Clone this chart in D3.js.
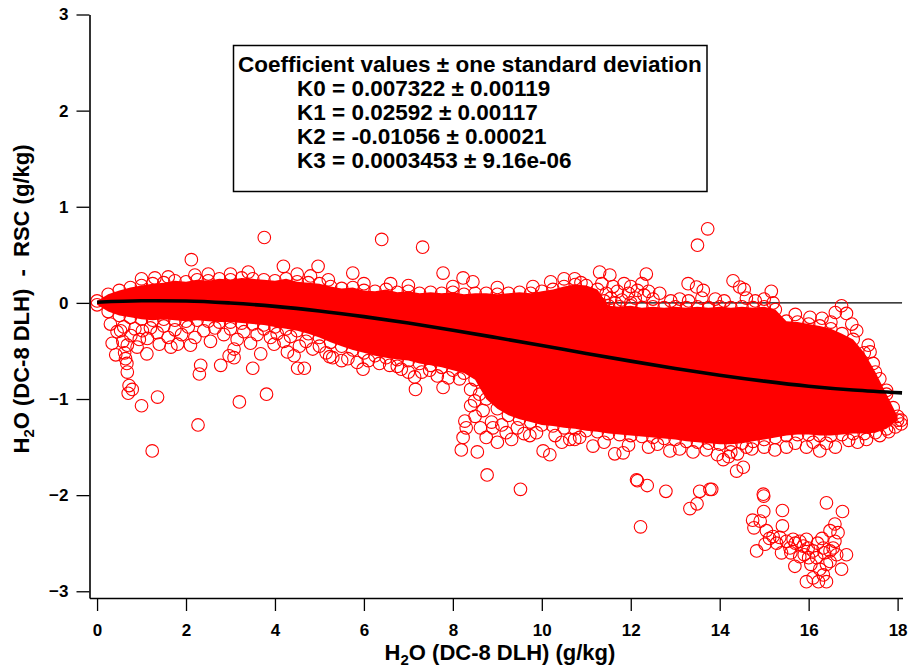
<!DOCTYPE html>
<html>
<head>
<meta charset="utf-8">
<script src="https://cdn.jsdelivr.net/npm/d3@7"></script>
<style>
  html, body { margin: 0; padding: 0; background: #fff; }
  svg { display: block; font-family: "Liberation Sans", Arial, sans-serif; font-weight: bold; }
</style>
</head>
<body>
<svg id="chart" width="912" height="668"></svg>
<script>
// ---------------- DATA ----------------
const xTickValues = [0, 2, 4, 6, 8, 10, 12, 14, 16, 18];
const yTickValues = [-3, -2, -1, 0, 1, 2, 3];

const xLabel = "H₂O (DC-8 DLH) (g/kg)";
const yLabel = "H₂O (DC-8 DLH)  -  RSC (g/kg)";

const legendTitle = "Coefficient values ± one standard deviation";
const coefNames  = ["K0", "K1", "K2", "K3"];
const coefValues = ["0.007322", "0.02592", "-0.01056", "0.0003453"];
const coefSigmas = ["0.00119", "0.00117", "0.00021", "9.16e-06"];

// fitted cubic curve
const fitX = [0, 1, 2, 3, 4, 5, 6, 7, 8, 9, 10, 11, 12, 13, 14, 15, 16, 17, 18.1];
const fitY = [0.007, 0.023, 0.020, -0.001, -0.036, -0.084, -0.143, -0.210, -0.284, -0.363,
              -0.444, -0.526, -0.606, -0.682, -0.752, -0.814, -0.867, -0.907, -0.936];

// zero reference line extent
const zeroLineX = [0, 18.1];

// upper and lower edge of the saturated (overlapping) point cloud
const upperEdge = [[0,0.02],[0.25,0.09],[0.5,0.13],[0.75,0.16],[1,0.18],[1.25,0.2],[1.5,0.21],[1.75,0.23],[2,0.22],[2.25,0.24],[2.5,0.23],[2.75,0.25],[3,0.24],[3.25,0.26],[3.5,0.25],[3.75,0.24],[4,0.23],[4.25,0.25],[4.5,0.22],[4.75,0.21],[5,0.2],[5.25,0.17],[5.5,0.15],[5.75,0.16],[6,0.13],[6.25,0.12],[6.5,0.14],[6.75,0.11],[7,0.12],[7.25,0.1],[7.5,0.11],[7.75,0.1],[8,0.11],[8.25,0.09],[8.5,0.1],[8.75,0.1],[9,0.09],[9.25,0.1],[9.5,0.11],[9.75,0.1],[10,0.12],[10.25,0.14],[10.5,0.17],[10.75,0.19],[11,0.18],[11.25,0.14],[11.5,-0.03],[11.75,-0.04],[12,-0.03],[12.25,-0.05],[12.5,-0.04],[12.75,-0.05],[13,-0.04],[13.25,-0.05],[13.5,-0.04],[13.75,-0.05],[14,-0.04],[14.25,-0.05],[14.5,-0.04],[14.75,-0.05],[15,-0.04],[15.25,-0.07],[15.5,-0.19],[15.75,-0.2],[16,-0.22],[16.25,-0.24],[16.5,-0.27],[16.75,-0.32],[17,-0.38],[17.25,-0.52],[17.5,-0.72],[17.75,-0.95],[18,-1.18]];
const lowerEdge = [[0,-0.02],[0.25,-0.09],[0.5,-0.13],[0.75,-0.15],[1,-0.17],[1.25,-0.18],[1.5,-0.17],[1.75,-0.18],[2,-0.19],[2.25,-0.18],[2.5,-0.19],[2.75,-0.2],[3,-0.2],[3.25,-0.21],[3.5,-0.22],[3.75,-0.23],[4,-0.25],[4.25,-0.27],[4.5,-0.29],[4.75,-0.32],[5,-0.36],[5.25,-0.41],[5.5,-0.45],[5.75,-0.49],[6,-0.52],[6.25,-0.55],[6.5,-0.57],[6.75,-0.59],[7,-0.6],[7.25,-0.63],[7.5,-0.65],[7.75,-0.67],[8,-0.7],[8.25,-0.73],[8.5,-0.8],[8.75,-1.0],[9,-1.1],[9.25,-1.17],[9.5,-1.21],[9.75,-1.24],[10,-1.27],[10.25,-1.28],[10.5,-1.3],[10.75,-1.31],[11,-1.33],[11.25,-1.34],[11.5,-1.36],[11.75,-1.37],[12,-1.38],[12.25,-1.39],[12.5,-1.4],[12.75,-1.41],[13,-1.42],[13.25,-1.44],[13.5,-1.45],[13.75,-1.46],[14,-1.47],[14.25,-1.47],[14.5,-1.46],[14.75,-1.44],[15,-1.42],[15.25,-1.4],[15.5,-1.38],[15.75,-1.37],[16,-1.37],[16.25,-1.38],[16.5,-1.38],[16.75,-1.37],[17,-1.36],[17.25,-1.36],[17.5,-1.35],[17.75,-1.31],[18,-1.22]];

// individually visible points: below the cloud (x < 5.3)
const pointsLowLeft = [[0.34,-0.42],[0.42,-0.54],[0.68,-0.44],[0.64,-0.58],[0.67,-0.63],[0.68,-0.72],[0.72,-0.86],[0.79,-0.9],[0.7,-0.94],[1.0,-1.07],[1.36,-0.98],[1.12,-0.53],[1.02,-0.29],[1.24,-1.54],[2.3,-0.74],[2.33,-0.65],[2.27,-1.27],[2.78,-0.65],[2.97,-0.55],[3.08,-0.57],[3.2,-1.03],[3.5,-0.68],[3.81,-0.95],[3.68,-0.53],[1.66,-0.46],[2.1,-0.44],[4.43,-0.55],[4.51,-0.68],[4.66,-0.68],[5.23,-0.56],[4.28,-0.51],[3.98,-0.43],[3.08,-0.48],[1.81,-0.43],[1.4,-0.43],[1.13,-0.37],[0.76,-0.34],[0.53,-0.29],[0.3,-0.22],[0.45,-0.3],[0.6,-0.25],[0.85,-0.27],[0.95,-0.38],[1.2,-0.26],[1.35,-0.31],[1.5,-0.24],[1.6,-0.36],[1.75,-0.28],[1.9,-0.33],[2.05,-0.25],[2.2,-0.36],[2.4,-0.29],[2.55,-0.4],[2.65,-0.26],[2.85,-0.33],[3.0,-0.27],[3.15,-0.38],[3.3,-0.3],[3.45,-0.42],[3.6,-0.33],[3.75,-0.27],[3.9,-0.36],[4.05,-0.32],[4.2,-0.4],[4.35,-0.35],[4.55,-0.45],[4.7,-0.4],[4.85,-0.48],[5.0,-0.45],[5.15,-0.52],[0.9,-0.46],[0.62,-0.52],[0.58,-0.4]];
// below the cloud, 5.3 to 10.9
const pointsLowMid = [[5.3,-0.57],[5.64,-0.58],[5.98,-0.69],[6.35,-0.63],[6.58,-0.65],[6.84,-0.69],[7.14,-0.77],[7.16,-0.9],[7.78,-0.88],[7.48,-0.7],[8.15,-0.79],[8.49,-1.02],[8.27,-1.23],[8.3,-1.3],[8.23,-1.4],[8.19,-1.53],[8.55,-1.55],[8.75,-1.4],[8.77,-1.79],[9.52,-1.94],[9.32,-1.42],[8.87,-1.24],[9.88,-1.35],[10.03,-1.54],[10.18,-1.58],[9.73,-1.38],[10.63,-1.42],[8.68,-1.12],[5.5,-0.6],[5.85,-0.62],[6.1,-0.6],[6.75,-0.66],[7.0,-0.72],[7.3,-0.72],[7.65,-0.76],[7.9,-0.78],[8.4,-0.9],[8.6,-0.95],[8.5,-1.18],[8.62,-1.3],[8.9,-1.3],[9.1,-1.27],[9.2,-1.35],[9.45,-1.3],[9.6,-1.36],[10.3,-1.38],[10.45,-1.45],[10.85,-1.4],[9.0,-1.45],[8.4,-1.07]];
// below the cloud, 10.7 to 18.1
const pointsLowRight = [[11.15,-1.49],[11.64,-1.57],[11.83,-1.56],[12.13,-1.84],[12.37,-1.9],[12.79,-1.96],[13.55,-1.96],[13.82,-1.94],[14.38,-1.75],[14.53,-1.71],[14.72,-1.52],[14.98,-1.99],[15.5,-1.5],[15.24,-1.53],[14.08,-1.63],[12.88,-1.54],[10.74,-1.42],[16.1,-1.45],[12.15,-1.85],[12.22,-2.33],[13.33,-2.14],[13.49,-2.09],[13.78,-1.94],[16.25,-1.54],[11.4,-1.45],[11.95,-1.48],[12.4,-1.5],[12.6,-1.47],[13.1,-1.52],[13.4,-1.55],[13.7,-1.53],[13.95,-1.58],[14.2,-1.6],[14.25,-1.55],[14.4,-1.57],[14.6,-1.5],[15.0,-1.5],[15.7,-1.46],[15.95,-1.5],[16.4,-1.46],[16.6,-1.5],[16.9,-1.43],[17.1,-1.45],[17.3,-1.42],[17.6,-1.38],[17.8,-1.34],[17.95,-1.29],[18.08,-1.26]];
// separate low cluster near x = 15-17
const pointsCluster = [[14.99,-2.01],[15.41,-2.16],[14.99,-2.17],[14.74,-2.26],[14.91,-2.27],[14.77,-2.34],[15.05,-2.37],[15.2,-2.43],[15.41,-2.32],[15.35,-2.44],[14.83,-2.58],[15.02,-2.51],[15.39,-2.6],[15.65,-2.46],[15.8,-2.48],[15.95,-2.46],[15.99,-2.55],[15.69,-2.74],[15.8,-2.64],[16.1,-2.58],[16.18,-2.65],[16.33,-2.55],[16.4,-2.08],[16.76,-2.17],[16.59,-2.3],[16.48,-2.37],[16.66,-2.39],[16.59,-2.48],[16.48,-2.58],[16.63,-2.62],[16.85,-2.62],[16.74,-2.77],[16.4,-2.72],[15.95,-2.9],[16.22,-2.9],[16.4,-2.9],[16.33,-2.83],[16.1,-2.86],[16.25,-2.77],[16.05,-2.72],[16.48,-2.69],[15.58,-2.55],[15.5,-2.48],[15.12,-2.45],[15.28,-2.5],[15.7,-2.5],[15.88,-2.53],[16.2,-2.5],[16.35,-2.6],[16.55,-2.55],[16.3,-2.45],[15.6,-2.6],[15.9,-2.62],[16.0,-2.65]];
// above the cloud
const pointsHigh = [[2.12,0.45],[3.76,0.68],[4.19,0.38],[4.97,0.38],[6.4,0.66],[7.32,0.58],[7.78,0.31],[8.23,0.26],[8.45,0.22],[5.75,0.31],[10.74,0.25],[12.35,0.3],[11.3,0.32],[11.53,0.29],[13.29,0.2],[13.48,0.165],[13.63,0.13],[13.73,0.77],[13.5,0.6],[14.3,0.23],[14.45,0.165],[14.55,0.14],[15.16,0.12],[10.88,0.21],[1.0,0.25],[1.6,0.27],[2.5,0.3],[3.0,0.3],[3.4,0.32],[4.5,0.3],[5.2,0.24],[6.0,0.2],[6.6,0.2],[7.0,0.18],[8.0,0.17],[9.0,0.16],[9.8,0.17],[10.2,0.22],[10.5,0.25],[4.8,0.28],[2.2,0.29],[1.3,0.26],[11.35,0.2],[11.45,0.1],[11.55,0.05],[11.6,0.17],[11.7,0.12],[11.8,0.03],[11.85,0.2],[11.95,0.1],[12.0,0.17],[12.1,0.05],[12.15,0.13],[12.25,0.2],[12.3,0.08],[11.4,0.02],[12.4,0.12],[12.5,0.04],[12.65,0.1],[12.0,0.0],[11.65,0.0],[12.9,0.02],[13.1,0.04],[13.3,0.02],[13.9,0.04],[14.1,0.02],[14.6,0.05],[14.8,0.02],[15.0,0.04],[15.2,0.0],[13.6,0.05],[16.74,-0.03],[16.85,-0.11],[16.97,-0.22],[17.08,-0.29],[17.34,-0.44],[17.38,-0.51],[17.45,-0.63],[17.6,-0.79],[17.75,-0.91],[17.9,-1.09],[18.08,-1.22],[16.03,-0.15],[15.7,-0.12],[16.3,-0.16],[16.5,-0.2],[16.6,-0.1]];

// ---------------- DRAWING ----------------
const svg = d3.select("#chart");
const red = "#ff0000";
const R = 6.3;

const x = d3.scaleLinear().domain([-0.17, 18.11]).range([89.5, 902.5]);
const y = d3.scaleLinear().domain([-3.07, 3.0]).range([598, 14.5]);

// zero line (beneath the points)
svg.append("line")
  .attr("x1", x(zeroLineX[0])).attr("x2", x(zeroLineX[1]))
  .attr("y1", y(0)).attr("y2", y(0))
  .attr("stroke", "#000").attr("stroke-width", 1.2);

// saturated core of the cloud
const coreData = upperEdge.map((d, i) => ({ x: d[0], y0: lowerEdge[i][1], y1: d[1] }));
svg.append("path")
  .datum(coreData)
  .attr("d", d3.area().x(d => x(d.x)).y0(d => y(d.y0)).y1(d => y(d.y1)))
  .attr("fill", red);

// individual points (open circles)
const allPoints = [].concat(upperEdge, lowerEdge, pointsLowLeft, pointsLowMid, pointsLowRight, pointsCluster, pointsHigh);
svg.append("g")
  .selectAll("circle")
  .data(allPoints)
  .join("circle")
  .attr("cx", d => x(d[0]))
  .attr("cy", d => y(d[1]))
  .attr("r", R)
  .attr("fill", "none")
  .attr("stroke", red)
  .attr("stroke-width", 1.1);

// fit curve
svg.append("path")
  .datum(fitX.map((v, i) => [v, fitY[i]]))
  .attr("d", d3.line().x(d => x(d[0])).y(d => y(d[1])).curve(d3.curveMonotoneX))
  .attr("fill", "none")
  .attr("stroke", "#000")
  .attr("stroke-width", 3.6);

// ---- axes ----
const axisFont = 17;
const gx = svg.append("g").attr("transform", `translate(0,${y.range()[0]})`);
gx.call(d3.axisBottom(x).tickValues(d3.range(0, 18.001, 0.2)).tickSize(8).tickSizeOuter(0).tickFormat(""));
gx.call(d3.axisBottom(x).tickValues(xTickValues).tickSize(13).tickSizeOuter(0).tickPadding(13).tickFormat(d3.format("d")));
gx.selectAll(".domain").attr("stroke-width", 1.6);
gx.selectAll(".tick line").attr("stroke-width", 1.3);
gx.selectAll("text").attr("font-size", axisFont).attr("font-weight", "bold")
  .attr("font-family", '"Liberation Sans", Arial, sans-serif').attr("fill", "#000");

const gy = svg.append("g").attr("transform", `translate(${x.range()[0]},0)`);
gy.call(d3.axisLeft(y).tickValues(d3.range(-3, 3.001, 0.1)).tickSize(7).tickSizeOuter(0).tickFormat(""));
gy.call(d3.axisLeft(y).tickValues(yTickValues).tickSize(13).tickSizeOuter(0).tickPadding(8).tickFormat(d3.format("d")));
gy.selectAll(".domain").attr("stroke-width", 1.6);
gy.selectAll(".tick line").attr("stroke-width", 1.3);
gy.selectAll("text").attr("font-size", axisFont).attr("font-weight", "bold")
  .attr("font-family", '"Liberation Sans", Arial, sans-serif').attr("fill", "#000");

// axis titles with subscript
function titleText(sel, label) {
  const parts = label.split("₂");
  sel.append("tspan").text(parts[0]);
  sel.append("tspan").text("2").attr("font-size", 15).attr("dy", 5);
  sel.append("tspan").text(parts[1]).attr("dy", -5);
}
const xt = svg.append("text")
  .attr("x", 500).attr("y", 660)
  .attr("text-anchor", "middle")
  .attr("font-size", 22)
  .style("white-space", "pre");
titleText(xt, xLabel);

const yt = svg.append("text")
  .attr("transform", "translate(29,299) rotate(-90)")
  .attr("text-anchor", "middle")
  .attr("font-size", 22)
  .style("white-space", "pre");
titleText(yt, yLabel);

// ---- legend box ----
const lg = svg.append("g");
lg.append("rect")
  .attr("x", 233.5).attr("y", 45.5).attr("width", 473.5).attr("height", 146)
  .attr("fill", "#fff").attr("stroke", "#000").attr("stroke-width", 1.5);
lg.append("text")
  .attr("x", 238).attr("y", 72).attr("font-size", 22.5)
  .text(legendTitle);
lg.selectAll("text.coef")
  .data(coefNames)
  .join("text")
  .attr("class", "coef")
  .attr("x", 297)
  .attr("y", (d, i) => 96 + 24 * i)
  .attr("font-size", 22.5)
  .text((d, i) => `${d} = ${coefValues[i]} ± ${coefSigmas[i]}`);
</script>
</body>
</html>
